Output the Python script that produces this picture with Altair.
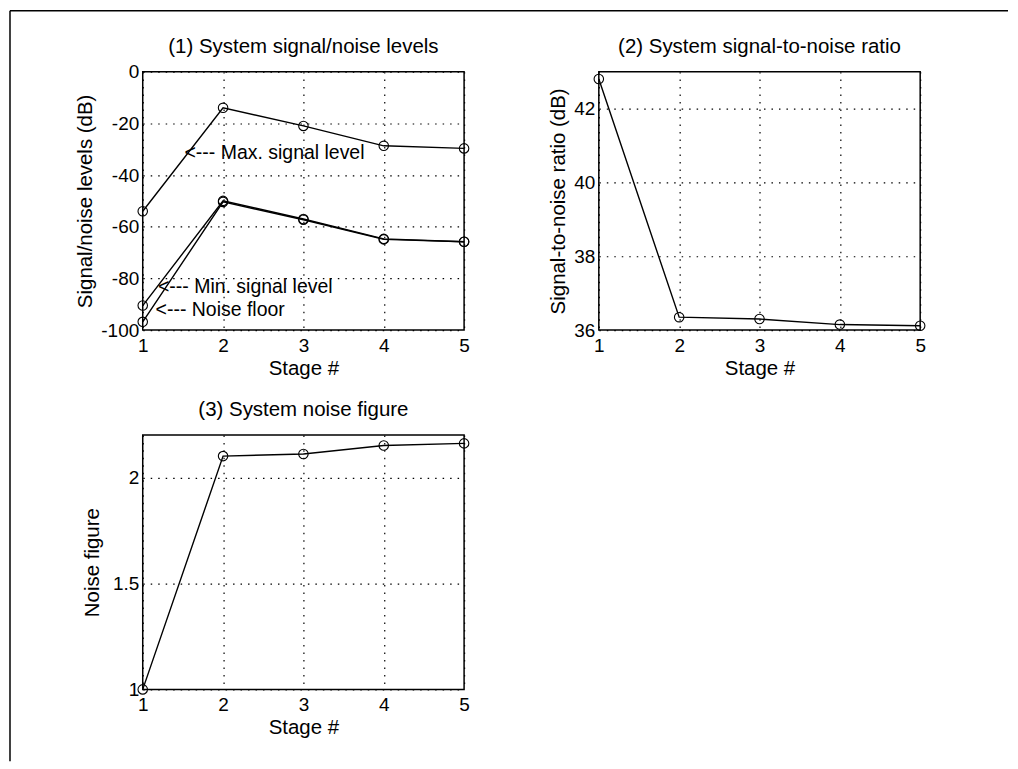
import altair as alt
import pandas as pd

# ---- data ----
stages = [1, 2, 3, 4, 5]
max_signal = [-54.0, -14.0, -21.0, -28.7, -29.7]
min_signal = [-90.5, -50.0, -57.0, -64.7, -65.8]
noise_floor = [-96.8, -50.4, -57.3, -64.9, -65.8]
snr_db = [42.8, 36.35, 36.3, 36.15, 36.12]
noise_figure = [1.0, 2.10, 2.11, 2.15, 2.16]

ann_text = ["<--- Max. signal level", "<--- Min. signal level", "<--- Noise floor"]
ann_x = [1.52, 1.19, 1.16]
ann_y = [-31.5, -83.4, -92.3]

levels_ticks = [-100, -80, -60, -40, -20, 0]
snr_ticks = [36, 38, 40, 42]
nf_ticks = [1, 1.5, 2]

FONT = "Liberation Sans"

# ---- tables ----
levels = pd.DataFrame(
    [{"stage": s, "value": v, "series": "Max. signal level"} for s, v in zip(stages, max_signal)]
    + [{"stage": s, "value": v, "series": "Min. signal level"} for s, v in zip(stages, min_signal)]
    + [{"stage": s, "value": v, "series": "Noise floor"} for s, v in zip(stages, noise_floor)]
)
snr = pd.DataFrame({"stage": stages, "value": snr_db})
nf = pd.DataFrame({"stage": stages, "value": noise_figure})
ann = pd.DataFrame({"stage": ann_x, "value": ann_y, "label": ann_text})


def xenc():
    return alt.X(
        "stage:Q",
        scale=alt.Scale(domain=[1, 5], nice=False, zero=False),
        axis=alt.Axis(values=stages, format="d", title="Stage #", labelFlush=False,
                      labelPadding=6, titlePadding=3),
    )


def yenc(domain, ticks, title, tpad):
    return alt.Y(
        "value:Q",
        scale=alt.Scale(domain=domain, nice=False, zero=False),
        axis=alt.Axis(values=ticks, labelExpr="toString(datum.value)", title=title,
                      labelFlush=False, labelPadding=4, titlePadding=tpad),
    )


def panel(df, domain, ticks, title, tpad, detail=False):
    base = alt.Chart(df)
    enc = dict(x=xenc(), y=yenc(domain, ticks, title, tpad))
    if detail:
        enc["detail"] = "series:N"
    line = base.mark_line(color="black", strokeWidth=1.4).encode(**enc)
    pts = base.mark_point(shape="circle", filled=False, color="black", size=90,
                          strokeWidth=1.1, opacity=1).encode(**enc)
    return line, pts


l1, p1 = panel(levels, [-100, 0], levels_ticks, "Signal/noise levels (dB)", 5, detail=True)
t1 = alt.Chart(ann).mark_text(align="left", baseline="middle", font=FONT, fontSize=19.5,
                              color="black").encode(x="stage:Q", y="value:Q", text="label:N")
c1 = alt.layer(l1, p1, t1).properties(
    width=322, height=259,
    title=alt.TitleParams("(1) System signal/noise levels", offset=5))

l2, p2 = panel(snr, [36, 43], snr_ticks, "Signal-to-noise ratio (dB)", 5)
c2 = alt.layer(l2, p2).properties(
    width=322, height=259,
    title=alt.TitleParams("(2) System signal-to-noise ratio", offset=14))

l3, p3 = panel(nf, [1, 2.2], nf_ticks, "Noise figure", 10)
c3 = alt.layer(l3, p3).properties(
    width=322, height=255,
    title=alt.TitleParams("(3) System noise figure", offset=14))

# page frame of the scanned figure (decoration), drawn from the empty 4th cell
frame_df = pd.DataFrame({"k": [0]})
frame_top = alt.Chart(frame_df).mark_rule(color="black", strokeWidth=1.5).encode(
    x=alt.value(-590), x2=alt.value(410), y=alt.value(-425))
frame_left = alt.Chart(frame_df).mark_rule(color="black", strokeWidth=1.5).encode(
    x=alt.value(-590), y=alt.value(-425), y2=alt.value(327))
c4 = alt.layer(frame_top, frame_left).properties(
    width=322, height=255, view=alt.ViewBackground(stroke="transparent"))

chart = alt.concat(
    c1, c2, c3, c4, columns=2, bounds="flush", spacing={"row": 105, "column": 135}
).properties(
    padding={"left": 0, "top": 0, "right": 0, "bottom": 0}
).configure_view(
    stroke="black", strokeWidth=1.5
).configure_axis(
    domain=False, ticks=False, grid=True, gridColor="black", gridDash=[1.5, 6],
    gridWidth=1.2, gridOpacity=1, labelFont=FONT, labelFontSize=19, labelColor="black",
    titleFont=FONT, titleFontSize=20.5, titleFontWeight="normal", titleColor="black",
).configure_title(
    font=FONT, fontSize=20.5, fontWeight="normal", color="black", frame="group",
    anchor="middle",
)

chart.save("out.html", embed_options={"renderer": "svg", "actions": False})
